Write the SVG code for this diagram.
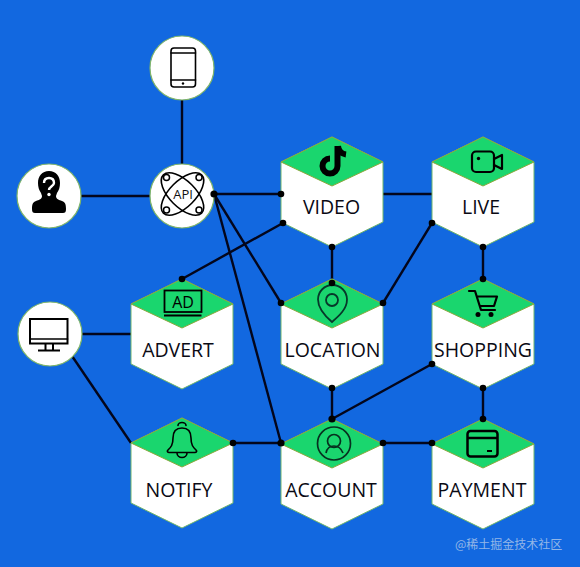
<svg xmlns="http://www.w3.org/2000/svg" width="580" height="567" viewBox="0 0 580 567">
<style>
.conn line{stroke:#03061c;stroke-width:2.4;fill:none}
.conn circle{fill:#000}
.hex{fill:#fff;stroke:#6fb56a;stroke-width:1}
.top{fill:#1ad66e;stroke:#8aa83c;stroke-width:1}
.circ{fill:#fff;stroke:#7fb56a;stroke-width:1.2}
.lbl{font-family:"Open Sans","Liberation Sans",sans-serif;font-size:19.5px;fill:#0a0a14;text-anchor:middle}
.ic{fill:none;stroke:#000;stroke-width:2.2;stroke-linecap:round;stroke-linejoin:round}
.ict{stroke-width:1.6}
.f{fill:#000;stroke:none}
</style>
<defs>
<g id="hexshape">
<path class="hex" d="M0 0L51 25V85L0 110L-51 85V25Z"/>
<path class="top" d="M0 0L51 25L0 49L-51 25Z"/>
</g>
</defs>
<rect width="580" height="567" fill="#1268e0"/>
<g id="connectors" class="conn">
<line x1="182" y1="98" x2="182" y2="166"/>
<line x1="80" y1="196" x2="151" y2="196"/>
<line x1="214" y1="194" x2="281" y2="194"/>
<line x1="214" y1="194" x2="281" y2="303"/>
<line x1="214" y1="194" x2="281" y2="443"/>
<line x1="283" y1="223" x2="182" y2="279"/>
<line x1="383" y1="194" x2="432" y2="194"/>
<line x1="332" y1="247" x2="332" y2="283"/>
<line x1="383" y1="303" x2="432" y2="223"/>
<line x1="483" y1="247" x2="483" y2="279"/>
<line x1="332" y1="388" x2="332" y2="419"/>
<line x1="332" y1="419" x2="432" y2="364"/>
<line x1="483" y1="388" x2="483" y2="419"/>
<line x1="383" y1="443" x2="432" y2="443"/>
<line x1="233" y1="443" x2="281" y2="443"/>
<line x1="82" y1="334" x2="131" y2="334"/>
<line x1="72" y1="356" x2="131" y2="443"/>
</g>
<g id="phone">
<circle class="circ" cx="182" cy="68" r="32"/>
<rect class="ic ict" x="171" y="48" width="24.500" height="39" rx="3"/>
<path class="ic ict" d="M171 53H195.500M171 80H195.500"/>
<circle class="f" cx="183" cy="83.500" r="1.200"/>
</g>
<g id="user">
<circle class="circ" cx="49" cy="196" r="32"/>
<path class="f" d="M49 171c-7 0-11 5-11 12c0 4 1 7 3 10l1 3c0 3-3 4-6 5c-3 1-4 3-4 8c0 3 1 4 3 4h28c2 0 3-1 3-4c0-5-1-7-4-8c-3-1-6-2-6-5l1-3c2-3 3-6 3-10c0-7-4-12-11-12z"/>
<path d="M44 183c0-3 2-5 5-5s5 2 5 5c0 3-5 3.500-5 7" fill="none" stroke="#fff" stroke-width="2.400"/>
<circle cx="49" cy="194.500" r="1.700" fill="#fff"/>
</g>
<g id="api">
<circle class="circ" cx="182" cy="196" r="32"/>
<ellipse class="ic ict" cx="182.500" cy="194" rx="27" ry="13" transform="rotate(45 182.500 194)"/>
<ellipse class="ic ict" cx="182.500" cy="194" rx="27" ry="13" transform="rotate(-45 182.500 194)"/>
<g fill="#fff" stroke="#000" stroke-width="1.500">
<circle cx="166.500" cy="177.500" r="3"/><circle cx="199" cy="177.500" r="3"/><circle cx="166.500" cy="210" r="3"/><circle cx="199" cy="210" r="3"/>
</g>
<text x="183" y="199" font-family="Open Sans,Liberation Sans,sans-serif" font-size="13" text-anchor="middle" fill="#111">API</text>
</g>
<g id="monitor">
<circle class="circ" cx="50" cy="334" r="32"/>
<rect x="30" y="319" width="37.500" height="24.500" fill="none" stroke="#000" stroke-width="2"/>
<path class="ic ict" d="M30 339H67.500"/>
<path d="M45.500 344V350M53 344V350M38 350.500H60" fill="none" stroke="#000" stroke-width="2"/>
</g>
<g id="video">
<use href="#hexshape" x="332" y="137"/>
<path d="M337.500 146V166a7.500 7.500 0 1 1-7.500-7.500M338 146c0.500 5 4 8 8 8.500" fill="none" stroke="#000" stroke-width="6"/>
<text class="lbl" x="331.500" y="214">VIDEO</text>
</g>
<g id="live">
<use href="#hexshape" x="483" y="137"/>
<rect class="ic" x="472" y="151.500" width="22" height="20.500" rx="4"/>
<path class="ic" d="M494 159L502 155V169L494 165"/>
<circle class="f" cx="478.500" cy="158.500" r="1.700"/>
<text class="lbl" x="481" y="214">LIVE</text>
</g>
<g id="location">
<use href="#hexshape" x="332" y="279"/>
<path d="M332 322C325 316 318 309 318 299.500a14.500 14.500 0 0 1 29 0C347 309 339 316 332 322Z" fill="none" stroke="#07382a" stroke-width="1.800"/>
<circle cx="332" cy="300" r="6" fill="none" stroke="#07382a" stroke-width="1.800"/>
<text class="lbl" x="332.500" y="357">LOCATION</text>
</g>
<g id="shopping">
<use href="#hexshape" x="483" y="279"/>
<path class="ic" d="M469 291H475L481 310H495M477 296.500H497L494 306H480"/>
<circle class="f" cx="478" cy="314.500" r="2.500"/><circle class="f" cx="491" cy="314.500" r="2.500"/>
<text class="lbl" x="483" y="357">SHOPPING</text>
</g>
<g id="advert">
<use href="#hexshape" x="182" y="279"/>
<rect x="164.500" y="290.500" width="37" height="21.500" fill="none" stroke="#000" stroke-width="1.800"/>
<path d="M164 315.500H201.500" stroke="#000" stroke-width="1.800"/>
<text x="183" y="307.500" font-family="Open Sans,Liberation Sans,sans-serif" font-size="16" text-anchor="middle" fill="#000">AD</text>
<text class="lbl" x="178" y="357">ADVERT</text>
</g>
<g id="notify">
<use href="#hexshape" x="182" y="418"/>
<path class="ic ict" d="M182 428c-6 0-9 4-9 10c0 7-2 9-5 12c-1 1-1 2 1 2.500h26c2-.5 2-1.500 1-2.500c-3-3-5-5-5-12c0-6-3-10-9-10zM178 425.500a4 3 0 0 1 8 0M177 453a5 4.500 0 0 0 10 0"/>
<text class="lbl" x="179" y="497">NOTIFY</text>
</g>
<g id="account">
<use href="#hexshape" x="332" y="419"/>
<circle cx="334" cy="443.500" r="16.500" fill="none" stroke="#07301f" stroke-width="1.700"/>
<circle cx="334" cy="441" r="6.500" fill="none" stroke="#07301f" stroke-width="1.700"/>
<path d="M326 453c1-5 4-7 8-7s7 2 9 7" fill="none" stroke="#07301f" stroke-width="1.700"/>
<text class="lbl" x="331" y="497">ACCOUNT</text>
</g>
<g id="payment">
<use href="#hexshape" x="483" y="419"/>
<rect x="467.500" y="431" width="30" height="25.500" rx="3" fill="none" stroke="#000" stroke-width="2.500"/>
<path d="M467.500 438H497.500" stroke="#000" stroke-width="2.500"/>
<path d="M487 451H492" stroke="#000" stroke-width="2"/>
<text class="lbl" x="482" y="497">PAYMENT</text>
</g>
<g id="dots" class="conn">
<circle cx="214" cy="194" r="3.600"/><circle cx="281" cy="194" r="3.300"/><circle cx="283" cy="223" r="3.300"/>
<circle cx="281" cy="303" r="3.300"/><circle cx="281" cy="443" r="3.600"/><circle cx="182" cy="279" r="3.300"/>
<circle cx="332" cy="247" r="3.300"/><circle cx="332" cy="283" r="3.300"/><circle cx="383" cy="303" r="3.300"/>
<circle cx="432" cy="223" r="3.300"/><circle cx="483" cy="247" r="3.300"/><circle cx="483" cy="279" r="3.300"/>
<circle cx="332" cy="388" r="3.300"/><circle cx="332" cy="419" r="3.600"/><circle cx="432" cy="364" r="3.300"/>
<circle cx="483" cy="388" r="3.300"/><circle cx="483" cy="419" r="3.300"/><circle cx="383" cy="443" r="3.300"/>
<circle cx="432" cy="443" r="3.300"/><circle cx="233" cy="443" r="3.300"/>
</g>
<text x="455" y="549" font-family="Noto Sans CJK SC,sans-serif" font-size="12" fill="#a9c4ea" opacity=".85">@稀土掘金技术社区</text>
</svg>
